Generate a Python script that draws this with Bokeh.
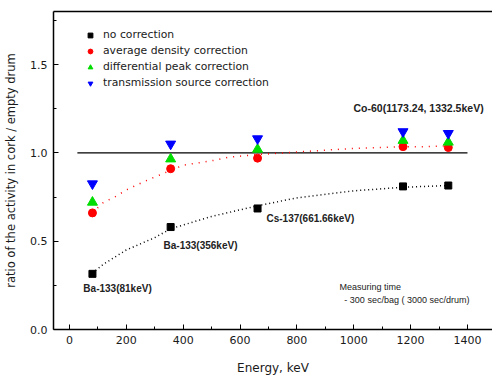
from bokeh.plotting import figure
from bokeh.models import (Range1d, LinearAxis, FixedTicker, Legend, LegendItem, Label,
                          CustomJSTickFormatter)
from bokeh.embed import file_html
from bokeh.resources import INLINE

# ---- data ----
energy = [81, 356, 661.66, 1173.24, 1332.5]
no_corr = [0.315, 0.58, 0.685, 0.81, 0.815]
avg_density = [0.66, 0.91, 0.97, 1.035, 1.03]
diff_peak = [0.72, 0.965, 1.02, 1.07, 1.06]
transmission = [0.825, 1.05, 1.08, 1.12, 1.11]

fit_black_x = [81, 120, 200, 300, 356, 500, 661, 800, 1000, 1173, 1332]
fit_black_y = [0.32, 0.37, 0.45, 0.52, 0.57, 0.64, 0.70, 0.745, 0.785, 0.805, 0.815]
fit_red_x = [81, 120, 160, 200, 280, 356, 400, 500, 560, 661, 800, 1000, 1100, 1173, 1250, 1332]
fit_red_y = [0.66, 0.72, 0.75, 0.79, 0.85, 0.90, 0.93, 0.955, 0.975, 0.99, 1.005, 1.025, 1.03, 1.035, 1.035, 1.04]

ref_x = [28, 1400]
ref_y = [1.0, 1.0]

x_ticks = [0, 200, 400, 600, 800, 1000, 1200, 1400]
y_ticks = [0.0, 0.5, 1.0, 1.5]

legend_labels = ["no correction", "average density correction",
                 "differential peak correction", "transmission source correction"]

FONT = "DejaVu Sans"
FONT2 = "Liberation Sans"
TXT = "#1a1a1a"

p = figure(width=492, height=377, output_backend="svg", toolbar_location=None,
           x_range=Range1d(-56, 1488), y_range=Range1d(0, 1.8),
           min_border_left=53, min_border_right=0, min_border_top=11, min_border_bottom=46)
p.outline_line_color = None
p.grid.visible = False
p.background_fill_color = "white"

for ax in (p.xaxis[0], p.yaxis[0]):
    ax.axis_line_width = 1.5
    ax.axis_line_color = "black"
    ax.major_tick_in = 5
    ax.major_tick_out = 0
    ax.minor_tick_in = 3
    ax.minor_tick_out = 0
    ax.major_tick_line_color = "black"
    ax.minor_tick_line_color = "black"
    ax.major_label_text_font = FONT
    ax.major_label_text_font_size = "11px"
    ax.major_label_text_color = TXT
    ax.axis_label_text_font = FONT
    ax.axis_label_text_font_style = "normal"
    ax.axis_label_text_color = TXT

p.xaxis[0].ticker = FixedTicker(ticks=x_ticks, minor_ticks=list(range(0, 1500, 100)))
p.yaxis[0].ticker = FixedTicker(ticks=y_ticks, minor_ticks=[0.25, 0.75, 1.25, 1.75])
p.yaxis[0].formatter = CustomJSTickFormatter(code="return tick.toFixed(1);")
p.xaxis[0].major_label_standoff = 6
p.yaxis[0].major_label_standoff = 6
p.xaxis[0].axis_label = "Energy, keV"
p.yaxis[0].axis_label = "ratio of the activity in cork / empty drum"
p.xaxis[0].axis_label_text_font_size = "12px"
p.yaxis[0].axis_label_text_font_size = "11.5px"
p.xaxis[0].axis_label_standoff = 14
p.yaxis[0].axis_label_standoff = 9

top = LinearAxis(ticker=FixedTicker(ticks=[]), axis_line_width=1.5, axis_line_color="black",
                 major_tick_in=0, major_tick_out=0, minor_tick_in=0, minor_tick_out=0,
                 major_label_standoff=0, major_label_text_font_size="0px")
p.add_layout(top, "above")

p.line(ref_x, ref_y, line_color="black", line_width=1.3)
p.line(fit_black_x, fit_black_y, line_color="black", line_width=1.5, line_dash="1 3")
p.line(fit_red_x, fit_red_y, line_color="red", line_width=1.5, line_dash="1 6")

r1 = p.scatter(energy, no_corr, marker="square", size=7, color="black")
r2 = p.scatter(energy, avg_density, marker="circle", size=8, color="red")
r3 = p.scatter(energy, diff_peak, marker="triangle", size=10, color="#00dd00")
r4 = p.scatter(energy, transmission, marker="inverted_triangle", size=10, color="blue")

legend = Legend(items=[LegendItem(label=l, renderers=[r]) for l, r in
                       zip(legend_labels, [r1, r2, r3, r4])],
                location=(31, 240), padding=0, margin=0, spacing=3,
                glyph_width=12, glyph_height=12, label_height=12, label_standoff=7,
                label_text_font=FONT, label_text_font_size="10.8px", label_text_color=TXT,
                background_fill_alpha=0, border_line_color=None)
p.add_layout(legend, "center")

notes = [
    ("Co-60(1173.24, 1332.5keV)", 999, 1.255, "bold", "10.5px"),
    ("Cs-137(661.66keV)", 693, 0.629, "bold", "10px"),
    ("Ba-133(356keV)", 331, 0.478, "bold", "10px"),
    ("Ba-133(81keV)", 49, 0.23, "bold", "10px"),
    ("Measuring time", 950, 0.242, "normal", "9px"),
    ("- 300 sec/bag ( 3000 sec/drum)", 967, 0.169, "normal", "9px"),
]
for t, x, y, st, fs in notes:
    p.add_layout(Label(x=x, y=y, text=t, text_font=FONT2, text_font_size=fs,
                       text_font_style=st, text_color="#222222", text_baseline="middle"))

open("out.html", "w").write(file_html(p, INLINE))
